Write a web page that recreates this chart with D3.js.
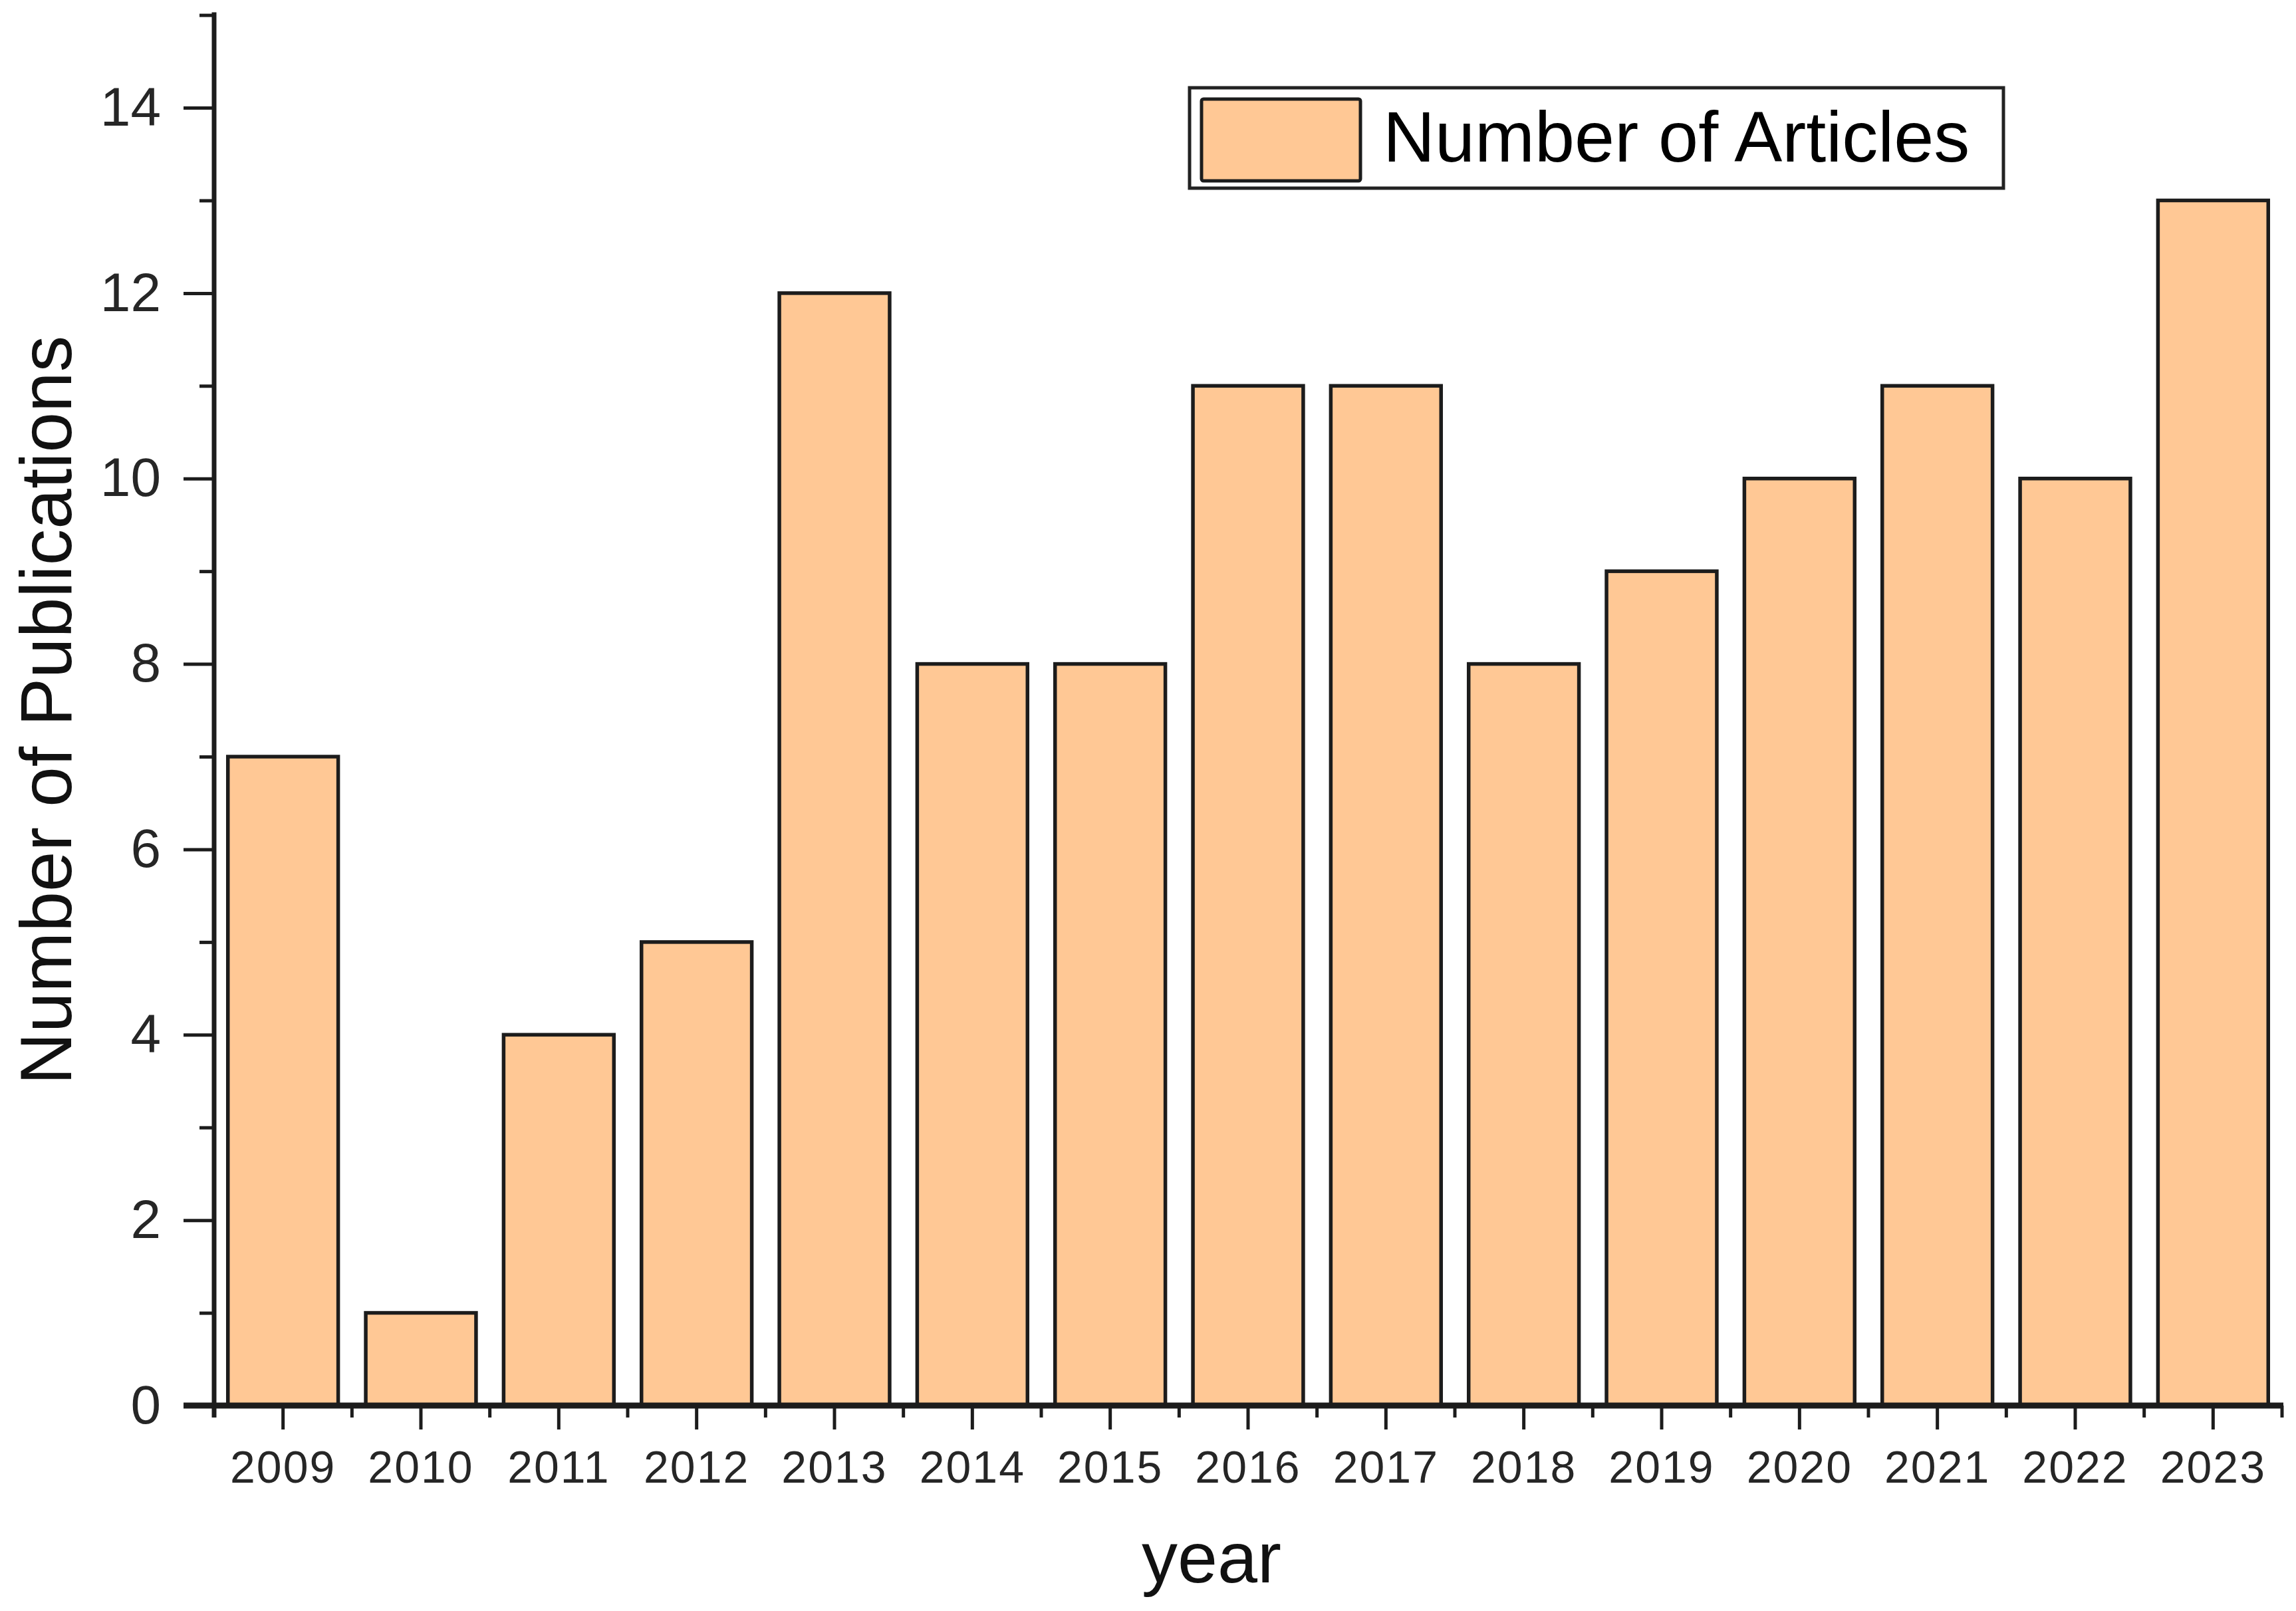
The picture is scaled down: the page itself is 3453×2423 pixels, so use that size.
<!DOCTYPE html>
<html>
<head>
<meta charset="utf-8">
<script src="https://cdn.jsdelivr.net/npm/d3@7"></script>
<style>
  html, body { margin: 0; padding: 0; background: #ffffff; }
  svg { display: block; }
</style>
</head>
<body>
<script>
// ---- data ----
const years = ["2009","2010","2011","2012","2013","2014","2015","2016","2017","2018","2019","2020","2021","2022","2023"];
const articles = [7, 1, 4, 5, 12, 8, 8, 11, 11, 8, 9, 10, 11, 10, 13];
const yMajorTicks = [0, 2, 4, 6, 8, 10, 12, 14];
const yMinorTicks = [1, 3, 5, 7, 9, 11, 13, 15];
const seriesName = "Number of Articles";
const xTitle = "year";
const yTitle = "Number of Publications";

// ---- layout ----
const W = 3453, H = 2423;
const plotLeft = 322, plotRight = 3432, plotBottom = 2114, plotTop = 22.6;
const barFill = "#FFC895";
const ink = "#1c1c1c";
const font = "'Liberation Sans', Arial, sans-serif";

const svg = d3.select("body").append("svg")
  .attr("width", W).attr("height", H)
  .style("font-family", font);

const x = d3.scaleBand().domain(years).range([plotLeft, plotRight])
  .paddingInner(0.2).paddingOuter(0.1);
const y = d3.scaleLinear().domain([0, 15]).range([plotBottom, plotTop]);

// ---- bars ----
svg.append("g").selectAll("rect")
  .data(years.map((yr, i) => ({ yr, v: articles[i] })))
  .join("rect")
  .attr("x", d => x(d.yr))
  .attr("width", x.bandwidth())
  .attr("y", d => y(d.v))
  .attr("height", d => y(0) - y(d.v))
  .attr("fill", barFill)
  .attr("stroke", ink)
  .attr("stroke-width", 5.5);

// ---- x axis ----
const step = x.step();
const edges = d3.range(years.length + 1).map(i => plotLeft + i * step);

const gx = svg.append("g").attr("transform", `translate(0,${plotBottom})`);
gx.selectAll("line.minor").data(edges).join("line")
  .attr("class", "minor")
  .attr("x1", d => d).attr("x2", d => d)
  .attr("y1", 0).attr("y2", 18)
  .attr("stroke", ink).attr("stroke-width", 5);

const xAxis = d3.axisBottom(x).tickSize(36).tickSizeOuter(0);
gx.call(xAxis);
gx.select(".domain").attr("stroke", ink).attr("stroke-width", 9)
  .attr("d", `M${plotLeft - 46},0H${edges[edges.length - 1] + 2}`);
gx.selectAll(".tick line").attr("stroke", ink).attr("stroke-width", 5);
gx.selectAll(".tick text")
  .attr("y", 116).attr("dy", 0)
  .attr("fill", "#262626")
  .style("font-size", "68px")
  .style("letter-spacing", "2px")
  .style("font-family", font);

// ---- y axis ----
const gy = svg.append("g").attr("transform", `translate(${plotLeft},0)`);
const yMinor = d3.axisLeft(y).tickValues(yMinorTicks).tickSize(22).tickFormat("").tickSizeOuter(0);
gy.append("g").call(yMinor).call(g => {
  g.select(".domain").remove();
  g.selectAll(".tick line").attr("stroke", ink).attr("stroke-width", 5);
});
const yAxis = d3.axisLeft(y).tickValues(yMajorTicks).tickSize(46).tickSizeOuter(0);
gy.append("g").call(yAxis).call(g => {
  g.select(".domain").attr("stroke", ink).attr("stroke-width", 7)
    .attr("d", `M0,${plotBottom + 18}V${plotTop - 4}`);
  g.selectAll(".tick line").attr("stroke", ink).attr("stroke-width", 5);
  g.selectAll(".tick text")
    .attr("x", -80).attr("dy", "0.32em")
    .attr("fill", "#262626")
    .style("font-size", "82px")
    .style("font-family", font);
});

// ---- axis titles ----
svg.append("text")
  .attr("x", 1822).attr("y", 2380)
  .attr("text-anchor", "middle")
  .attr("fill", "#111")
  .style("font-size", "108px")
  .text(xTitle);

svg.append("text")
  .attr("transform", `translate(107,${(plotTop + plotBottom) / 2}) rotate(-90)`)
  .attr("text-anchor", "middle")
  .attr("fill", "#111")
  .style("font-size", "109px")
  .text(yTitle);

// ---- legend ----
const lg = svg.append("g");
lg.append("rect")
  .attr("x", 1789).attr("y", 132).attr("width", 3013 - 1789).attr("height", 283 - 132)
  .attr("fill", "#fff").attr("stroke", "#222").attr("stroke-width", 5);
lg.append("rect")
  .attr("x", 1807).attr("y", 149).attr("width", 2046 - 1807).attr("height", 272 - 149)
  .attr("rx", 3)
  .attr("fill", barFill).attr("stroke", ink).attr("stroke-width", 5);
lg.append("text")
  .attr("x", 2080).attr("y", 243)
  .attr("fill", "#000")
  .style("font-size", "108px")
  .text(seriesName);
</script>
</body>
</html>
